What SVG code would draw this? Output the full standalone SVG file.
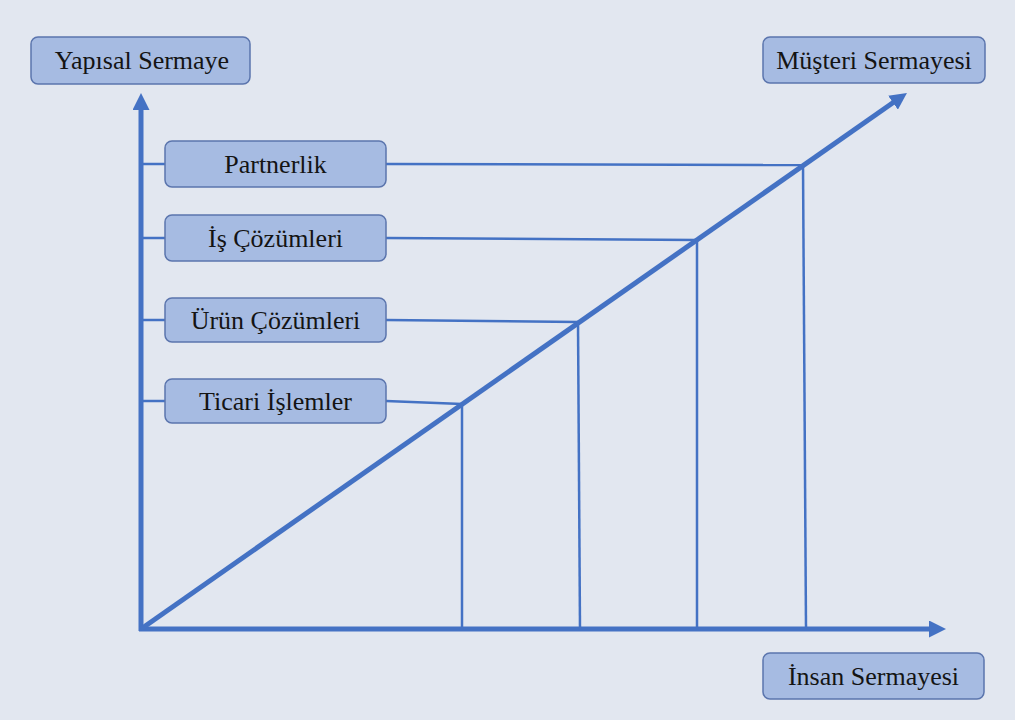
<svg xmlns="http://www.w3.org/2000/svg" width="1015" height="720" viewBox="0 0 1015 720">
  <style>
    .box { fill: #a6bbe2; stroke: #5b75ad; stroke-width: 1.5; }
    .lbl { font-family: "Liberation Serif", "Times New Roman", serif; font-size: 26px; fill: #141414; text-anchor: middle; dominant-baseline: central; }
    .axis { stroke: #4472c4; stroke-width: 5; fill: none; }
    .thin { stroke: #4472c4; stroke-width: 2.5; fill: none; }
  </style>
  <defs>
    <!-- triangular head; the line stops inside it so the tip stays sharp -->
    <marker id="arrow" viewBox="0 0 10 10" refX="4" refY="5" markerWidth="3.4" markerHeight="3.4" orient="auto" markerUnits="strokeWidth">
      <path d="M0,0 L10,5 L0,10 Z" fill="#4472c4"/>
    </marker>
  </defs>
  <rect width="1015" height="720" fill="#e2e7f0"/>

  <g id="connectors">
    <!-- axes -->
    <line class="axis" x1="141" y1="631" x2="141" y2="103.2" marker-end="url(#arrow)"/>
    <line class="axis" x1="139" y1="629" x2="935.8" y2="629" marker-end="url(#arrow)"/>
    <line class="axis" x1="141" y1="629" x2="898.6" y2="98.8" marker-end="url(#arrow)"/>
    <!-- ticks from the vertical axis -->
    <line class="thin" x1="141" y1="164" x2="165" y2="164"/>
    <line class="thin" x1="141" y1="238" x2="165" y2="238"/>
    <line class="thin" x1="141" y1="320" x2="165" y2="320"/>
    <line class="thin" x1="141" y1="401" x2="165" y2="401"/>
    <!-- horizontals to the diagonal -->
    <line class="thin" x1="386" y1="164" x2="803" y2="165"/>
    <line class="thin" x1="386" y1="238" x2="697" y2="240"/>
    <line class="thin" x1="386" y1="320" x2="578" y2="322"/>
    <line class="thin" x1="386" y1="401" x2="462" y2="404"/>
    <!-- verticals down to the horizontal axis -->
    <line class="thin" x1="803" y1="165" x2="806" y2="629"/>
    <line class="thin" x1="697" y1="240" x2="697" y2="629"/>
    <line class="thin" x1="578" y1="322" x2="580" y2="629"/>
    <line class="thin" x1="462" y1="404" x2="462" y2="629"/>
  </g>

  <g id="yapisal-sermaye">
    <rect class="box" x="31" y="37" width="219" height="47" rx="7"/>
    <text class="lbl" x="142" y="60.5">Yapısal Sermaye</text>
  </g>
  <g id="musteri-sermayesi">
    <rect class="box" x="763" y="37" width="222" height="46" rx="7"/>
    <text class="lbl" x="874" y="60">Müşteri Sermayesi</text>
  </g>
  <g id="partnerlik">
    <rect class="box" x="165" y="141" width="221" height="46" rx="7"/>
    <text class="lbl" x="275.5" y="164">Partnerlik</text>
  </g>
  <g id="is-cozumleri">
    <rect class="box" x="165" y="215" width="221" height="46" rx="7"/>
    <text class="lbl" x="275.5" y="238">İş Çözümleri</text>
  </g>
  <g id="urun-cozumleri">
    <rect class="box" x="165" y="298" width="221" height="44" rx="7"/>
    <text class="lbl" x="275.5" y="320">Ürün Çözümleri</text>
  </g>
  <g id="ticari-islemler">
    <rect class="box" x="165" y="379" width="221" height="44" rx="7"/>
    <text class="lbl" x="275.5" y="401">Ticari İşlemler</text>
  </g>
  <g id="insan-sermayesi">
    <rect class="box" x="763" y="653" width="221" height="46" rx="7"/>
    <text class="lbl" x="873.5" y="676">İnsan Sermayesi</text>
  </g>
</svg>
